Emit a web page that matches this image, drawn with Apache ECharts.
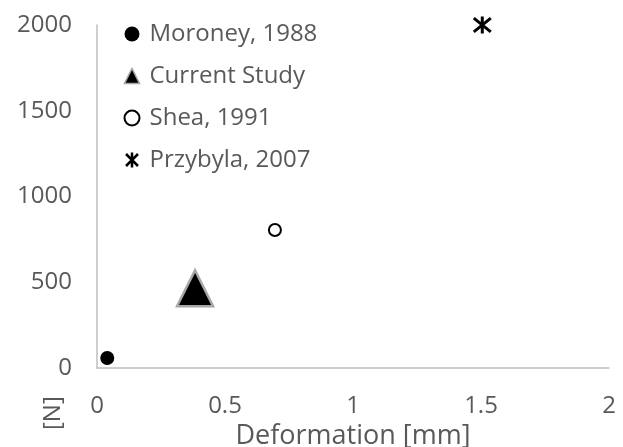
<!DOCTYPE html>
<html>
<head>
<meta charset="utf-8">
<script src="https://cdn.jsdelivr.net/npm/echarts@6/dist/echarts.min.js"></script>
<style>
  html, body { margin: 0; padding: 0; background: #fff; }
  #chart { width: 623px; height: 447px; }
</style>
</head>
<body>
<div id="chart"></div>
<script>
const seriesNames = ['Moroney, 1988', 'Current Study', 'Shea, 1991', 'Przybyla, 2007'];
const moroney = [[0.04, 58]];
const currentStudy = [[0.383, 465]];
const shea = [[0.695, 805]];
const przybyla = [[1.505, 2000]];

const FONT = '"Open Sans", sans-serif';
const AXIS_GREY = '#bfbfbf';
const TEXT_GREY = '#595959';

// asterisk: vertical bar + X, stroked
const ASTERISK = 'path://M10,0 L10,20 M2,2 L18,18 M2,18 L18,2';

const chart = echarts.init(document.getElementById('chart'));

const axisBase = {
    axisLine: { show: true, onZero: false, lineStyle: { color: AXIS_GREY, width: 1.5 } },
    axisTick: { show: false },
    splitLine: { show: false },
    axisLabel: { color: TEXT_GREY, fontSize: 24, fontFamily: FONT, formatter: v => String(v) }
};

chart.setOption({
    animation: false,
    backgroundColor: '#fff',
    grid: { left: 97, right: 14, top: 25, bottom: 79, outerBoundsMode: 'none', containLabel: false },
    xAxis: {
        ...axisBase,
        type: 'value', min: 0, max: 2, interval: 0.5,
        axisLabel: { ...axisBase.axisLabel, margin: 26 },
        name: 'Deformation [mm]', nameLocation: 'middle', nameGap: 52,
        nameTextStyle: { color: TEXT_GREY, fontSize: 27, fontFamily: FONT }
    },
    yAxis: {
        ...axisBase,
        type: 'value', min: 0, max: 2000, interval: 500,
        axisLabel: { ...axisBase.axisLabel, margin: 25 }
    },
    legend: {
        orient: 'vertical', left: 123.5, top: 18, padding: 0,
        itemWidth: 15, itemHeight: 15, itemGap: 10, symbolKeepAspect: true,
        textStyle: { color: TEXT_GREY, fontSize: 24, fontFamily: FONT, lineHeight: 32, padding: [0, 0, 0, 5] },
        data: [
            { name: seriesNames[0], icon: 'circle' },
            { name: seriesNames[1], icon: 'triangle', itemStyle: { borderWidth: 1.5 } },
            { name: seriesNames[2], icon: 'emptyCircle', itemStyle: { borderWidth: 2.5 } },
            { name: seriesNames[3], icon: ASTERISK, itemStyle: { borderWidth: 2.5 } }
        ]
    },
    graphic: [{
        type: 'text', x: 41, y: 430, rotation: Math.PI / 2,
        style: { text: '[N]', fill: TEXT_GREY, font: '24px "Open Sans", sans-serif', textVerticalAlign: 'top' }
    }],
    series: [
        { name: seriesNames[0], type: 'scatter', data: moroney, symbol: 'circle', symbolSize: 14,
          itemStyle: { color: '#000', opacity: 1 } },
        { name: seriesNames[1], type: 'scatter', data: currentStudy, symbol: 'triangle', symbolSize: [36, 36],
          itemStyle: { color: '#000', borderColor: '#a6a6a6', borderWidth: 2.5, opacity: 1 } },
        { name: seriesNames[2], type: 'scatter', data: shea, symbol: 'emptyCircle', symbolSize: 12,
          itemStyle: { color: '#000', borderColor: '#000', borderWidth: 2.5, opacity: 1 } },
        { name: seriesNames[3], type: 'scatter', data: przybyla, symbol: ASTERISK, symbolSize: 17,
          itemStyle: { color: 'none', borderColor: '#000', borderWidth: 3, opacity: 1 } }
    ]
});
</script>
</body>
</html>
